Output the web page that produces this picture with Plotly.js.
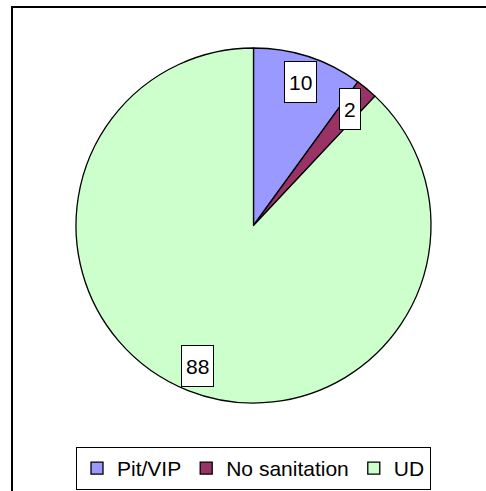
<!DOCTYPE html>
<html>
<head>
<meta charset="utf-8">
<script src="https://cdn.plot.ly/plotly-3.0.1.min.js"></script>
<style>html,body{margin:0;padding:0;background:#fff;}#chart{width:486px;height:491px;}</style>
</head>
<body>
<div id="chart"></div>
<script>
const categories = ["Pit/VIP", "No sanitation", "UD"];
const values = [10, 2, 88];
const colors = ["#9999FF", "#993366", "#CCFFCC"];

const W = 486, H = 491;
const dom = {x: [76 / W, 431 / W], y: [1 - 403 / H, 1 - 48 / H]};
const cx = (dom.x[0] + dom.x[1]) / 2, cy = (dom.y[0] + dom.y[1]) / 2;
const Rpx = (dom.x[1] - dom.x[0]) * W / 2;
const labelR = 0.85 * Rpx;
const total = values.reduce((a, b) => a + b, 0);

let cum = 0;
const annotations = values.map((v, i) => {
  const mid = (cum + v / 2) / total * 2 * Math.PI;
  cum += v;
  const txt = String(v);
  return {
    xref: "paper", yref: "paper",
    x: cx + labelR * Math.sin(mid) / W,
    y: cy + labelR * Math.cos(mid) / H,
    text: txt, showarrow: false,
    font: {family: "Liberation Sans, Arial, sans-serif", size: 21, color: "#000"},
    bgcolor: "#fff", bordercolor: "#000", borderwidth: 1, borderpad: 0,
    width: txt.length * 11.7 + 8, height: 40,
    xanchor: "center", yanchor: "middle"
  };
});

const data = [{
  type: "pie",
  labels: categories,
  values: values,
  sort: false,
  direction: "clockwise",
  rotation: 0,
  textinfo: "none",
  hoverinfo: "label+value",
  marker: {colors: colors, line: {color: "#000", width: 1.3}},
  domain: dom
}];

const layout = {
  width: W, height: H,
  margin: {l: 0, r: 0, t: 0, b: 0},
  paper_bgcolor: "#fff",
  showlegend: true,
  legend: {
    orientation: "h", x: 253.5 / W, xanchor: "center", y: 1 - 447 / H, yanchor: "top",
    bordercolor: "#000", borderwidth: 1, bgcolor: "#fff",
    font: {family: "Liberation Sans, Arial, sans-serif", size: 21, color: "#000"},
    itemwidth: 30, traceorder: "normal"
  },
  annotations: annotations,
  shapes: [
    {type: "line", xref: "paper", yref: "paper", x0: 12 / W, x1: 12 / W, y0: 1 - 6 / H, y1: 0,
     line: {color: "#000", width: 2}, layer: "below"},
    {type: "line", xref: "paper", yref: "paper", x0: 11 / W, x1: 1, y0: 1 - 7 / H, y1: 1 - 7 / H,
     line: {color: "#000", width: 2}, layer: "below"}
  ]
};

Plotly.newPlot("chart", data, layout, {displayModeBar: false, staticPlot: true});
</script>
</body>
</html>
